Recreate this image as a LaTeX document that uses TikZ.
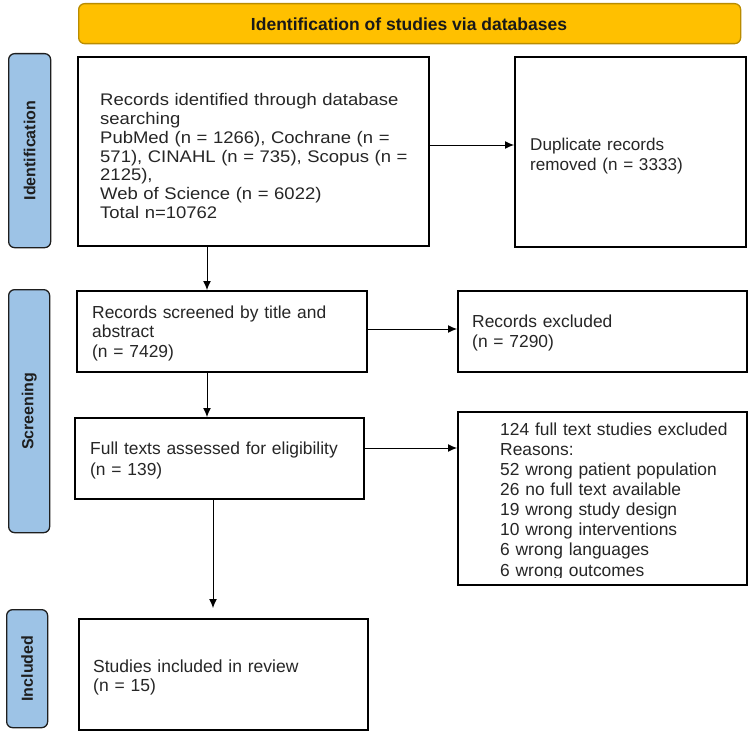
\documentclass[tikz,border=0pt]{standalone}
\usepackage{fontspec}
\setmainfont{Liberation Sans}
\newfontfamily\widefont[FakeStretch=1.1]{Liberation Sans}
\usetikzlibrary{arrows.meta}
\definecolor{bannerfill}{RGB}{255,192,0}
\definecolor{bannerdraw}{RGB}{185,140,0}
\definecolor{labfill}{RGB}{157,195,230}
\definecolor{labdraw}{RGB}{30,30,30}
\definecolor{txtcol}{RGB}{38,38,38}
\tikzset{
  box/.style={draw=black, line width=1.8pt, anchor=north west, inner sep=0pt, fill=white},
  txt/.style={anchor=base west, inner sep=0pt, align=left, text width=340pt, text=txtcol},
  lab/.style={draw=labdraw, fill=labfill, rounded corners=6pt, line width=1.3pt, anchor=north west, inner sep=0pt},
  labtxt/.style={rotate=90, font=\fontsize{16}{18}\selectfont\bfseries, text=labdraw, inner sep=0pt},
  arr/.style={-{Latex[length=9pt,width=8pt]}, line width=1pt, draw=black}
}
\begin{document}
\begin{tikzpicture}[x=1pt,y=-1pt]
\fill[white] (0,0) rectangle (749,733);
\useasboundingbox (0,0) rectangle (749,733);

% banner
\node[draw=bannerdraw, fill=bannerfill, rounded corners=6pt, line width=1.3pt, anchor=north west,
      minimum width=662pt, minimum height=40pt, inner sep=0pt] (banner) at (78,3) {};
\node[anchor=base, inner sep=0pt, font=\fontsize{17.5}{20}\selectfont\bfseries, text=black!90] (bannertxt) at (409,31) {Identification of studies via databases};

% side labels
\node[lab, minimum width=42pt, minimum height=194pt] (lid) at (8,53) {};
\node[labtxt] (lidt) at (lid.center) {Identification};
\node[lab, minimum width=41pt, minimum height=243pt] (lscr) at (8,289) {};
\node[labtxt] (lscrt) at (lscr.center) {Screening};
\node[lab, minimum width=41pt, minimum height=118pt] (linc) at (6,609) {};
\node[labtxt] (linct) at (linc.center) {Included};

% boxes
\node[box, minimum width=351pt, minimum height=189pt] (b1) at (77,56) {};
\node[box, minimum width=231pt, minimum height=190pt] (dup) at (514,56) {};
\node[box, minimum width=290pt, minimum height=81pt] (b2) at (76,290) {};
\node[box, minimum width=289pt, minimum height=81pt] (excl) at (457,290) {};
\node[box, minimum width=289pt, minimum height=81pt] (b3) at (74,417) {};
\node[box, minimum width=289pt, minimum height=173pt] (reas) at (457,411) {};
\node[box, minimum width=289pt, minimum height=111pt] (incl) at (78,618) {};

% texts
\node[txt, font=\widefont\fontsize{16.8}{18.7}\selectfont] (t1) at (100,106)
 {Records identified through database\\
  searching\\
  PubMed (n = 1266), Cochrane (n =\\
  571), CINAHL (n = 735), Scopus (n =\\
  2125),\\
  Web of Science (n = 6022)\\
  Total n=10762};
\node[txt, font=\fontsize{17.1}{20}\selectfont] (tdup) at (530,150)
 {Duplicate records\\removed (n = 3333)};
\node[txt, font=\fontsize{17.4}{19.5}\selectfont] (t2) at (92,318)
 {Records screened by title and\\abstract\\(n = 7429)};
\node[txt, font=\fontsize{17.4}{20.5}\selectfont] (texcl) at (472,327)
 {Records excluded\\(n = 7290)};
\node[txt, font=\fontsize{17.4}{21}\selectfont] (t3) at (90,454)
 {Full texts assessed for eligibility\\(n = 139)};
\begin{scope}
\clip (450,400) rectangle (750,577.5);
\node[txt, font=\fontsize{17.4}{20.15}\selectfont] (treas) at (500,435)
 {124 full text studies excluded\\
  Reasons:\\
  52 wrong patient population\\
  26 no full text available\\
  19 wrong study design\\
  10 wrong interventions\\
  6 wrong languages\\
  6 wrong outcomes};
\end{scope}
\node[txt, font=\fontsize{17.5}{19}\selectfont] (tinc) at (93,672)
 {Studies included in review\\(n = 15)};

% helper coordinates
\coordinate (y145) at (0,145);
\coordinate (y329) at (0,329);
\coordinate (y448) at (0,448);
\coordinate (x207) at (207,0);
\coordinate (x213) at (213,0);

% connectors
\draw[arr] (b1.east |- y145) -- (dup.west |- y145);
\draw[arr] (b1.south -| x207) -- (b2.north -| x207);
\draw[arr] (b2.east |- y329) -- (excl.west |- y329);
\draw[arr] (b2.south -| x207) -- (b3.north -| x207);
\draw[arr] (b3.east |- y448) -- (reas.west |- y448);
\draw[arr, shorten >=10pt] (b3.south -| x213) -- (incl.north -| x213);
\end{tikzpicture}
\end{document}
